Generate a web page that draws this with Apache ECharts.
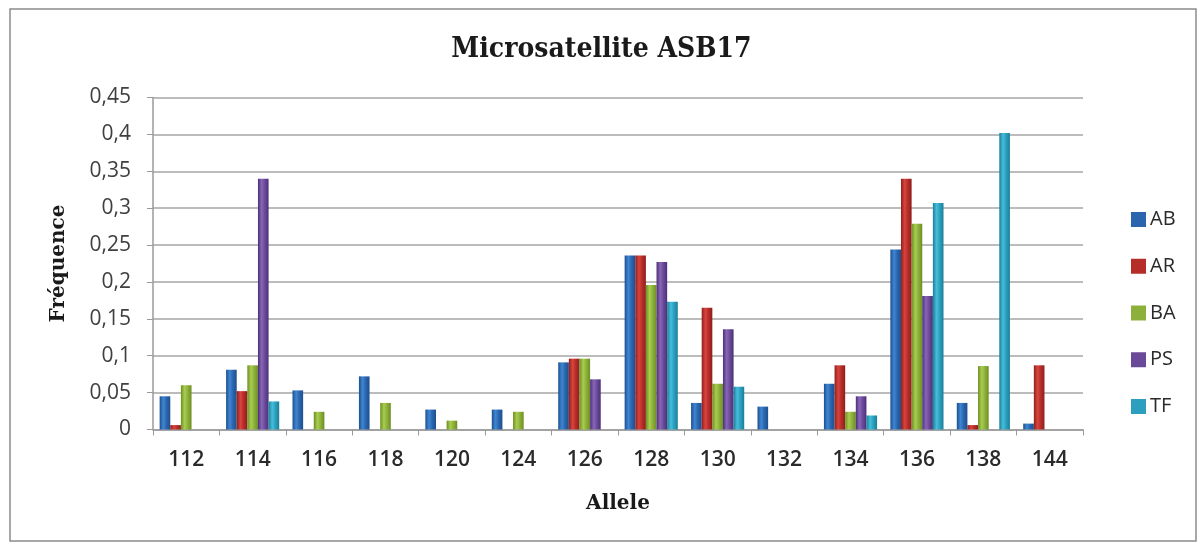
<!DOCTYPE html>
<html>
<head>
<meta charset="utf-8">
<script src="https://cdn.jsdelivr.net/npm/echarts@6/dist/echarts.min.js"></script>
<style>
  html, body { margin: 0; padding: 0; background: #ffffff; }
  #chart { width: 1203px; height: 544px; }
</style>
</head>
<body>
<div id="chart"></div>
<script>
// Allele sizes (bp) and frequency per population
const categories = ['112', '114', '116', '118', '120', '124', '126', '128', '130', '132', '134', '136', '138', '144'];
const seriesNames = ['AB', 'AR', 'BA', 'PS', 'TF'];
const AB = [0.045, 0.081, 0.053, 0.072, 0.027, 0.027, 0.091, 0.236, 0.036, 0.031, 0.062, 0.244, 0.036, 0.008];
const AR = [0.006, 0.052, 0, 0, 0, 0, 0.096, 0.236, 0.165, 0, 0.087, 0.340, 0.006, 0.087];
const BA = [0.060, 0.087, 0.024, 0.036, 0.012, 0.024, 0.096, 0.196, 0.062, 0, 0.024, 0.279, 0.086, 0];
const PS = [0, 0.340, 0, 0, 0, 0, 0.068, 0.227, 0.136, 0, 0.045, 0.181, 0, 0];
const TF = [0, 0.038, 0, 0, 0, 0, 0, 0.173, 0.058, 0, 0.019, 0.307, 0.402, 0];
const yTicks = ['0', '0,05', '0,1', '0,15', '0,2', '0,25', '0,3', '0,35', '0,4', '0,45'];

const values = [AB, AR, BA, PS, TF];
// edge / centre tones for the cylindrical bar shading
const palette = [
  ['#1d4f8f', '#3f86d2', '#2a65ad'],
  ['#8e1f1c', '#d9443d', '#b52d29'],
  ['#6c8e23', '#a9cd50', '#8cb03a'],
  ['#4c2f78', '#8866b8', '#6a4a98'],
  ['#1a7f98', '#45bedb', '#2b9fbd']
];

function shade(c) {
  return new echarts.graphic.LinearGradient(0, 0, 1, 0, [
    { offset: 0, color: c[0] },
    { offset: 0.35, color: c[1] },
    { offset: 0.65, color: c[2] },
    { offset: 1, color: c[0] }
  ]);
}

const chart = echarts.init(document.getElementById('chart'), null, { renderer: 'canvas' });

const series = seriesNames.map((name, i) => ({
  name: name,
  type: 'bar',
  data: values[i],
  barGap: '0%',
  barCategoryGap: '20%',
  itemStyle: { color: shade(palette[i]) }
}));

chart.setOption({
  backgroundColor: '#ffffff',
  animation: false,
  color: palette.map(p => p[2]),
  graphic: [{
    type: 'rect',
    shape: { x: 10, y: 9, width: 1186, height: 532 },
    style: { fill: 'none', stroke: '#8c8c8c', lineWidth: 1.5 },
    silent: true
  }],
  title: {
    text: 'Microsatellite ASB17',
    left: 'center',
    top: 31,
    textStyle: {
      fontFamily: 'DejaVu Serif Condensed, DejaVu Serif, serif',
      fontWeight: 'bold',
      fontSize: 28,
      color: '#1a1a1a'
    }
  },
  legend: {
    orient: 'vertical',
    left: 1126,
    top: 204,
    itemGap: 25.75,
    itemWidth: 15,
    itemHeight: 15,
    icon: 'rect',
    data: seriesNames.map((n, i) => ({ name: n, itemStyle: { color: palette[i][2] } })),
    textStyle: { fontFamily: 'Open Sans, sans-serif', fontSize: 20, lineHeight: 21, color: '#2a2a2a', padding: [0, 0, 0, -1] }
  },
  grid: { left: 153, right: 120, top: 97.5, bottom: 114.5, containLabel: false },
  xAxis: {
    type: 'category',
    data: categories,
    name: 'Allele',
    nameLocation: 'middle',
    nameGap: 64,
    nameTextStyle: { fontFamily: 'DejaVu Serif, serif', fontWeight: 'bold', fontSize: 20, color: '#1a1a1a' },
    axisLine: { lineStyle: { color: '#9a9a9a', width: 1.5 } },
    axisTick: { show: true, alignWithLabel: false, length: 6, lineStyle: { color: '#9a9a9a' } },
    axisLabel: { fontFamily: 'Open Sans, sans-serif', fontWeight: 600, fontSize: 21, color: '#2a2a2a', margin: 20 }
  },
  yAxis: {
    type: 'value',
    min: 0,
    max: 0.45,
    interval: 0.05,
    name: 'Fréquence',
    nameLocation: 'middle',
    nameGap: 84,
    nameRotate: 90,
    nameTextStyle: { fontFamily: 'DejaVu Serif, serif', fontWeight: 'bold', fontSize: 20, color: '#1a1a1a' },
    axisLine: { show: true, lineStyle: { color: '#9a9a9a', width: 1.5 } },
    axisTick: { show: true, length: 6, lineStyle: { color: '#9a9a9a' } },
    splitLine: { lineStyle: { color: '#a6a6a6', width: 1.5 } },
    axisLabel: {
      fontFamily: 'Open Sans, sans-serif',
      fontSize: 21,
      color: '#404040',
      margin: 22,
      formatter: (v) => yTicks[Math.round(v / 0.05)]
    }
  },
  series: series
});
</script>
</body>
</html>
